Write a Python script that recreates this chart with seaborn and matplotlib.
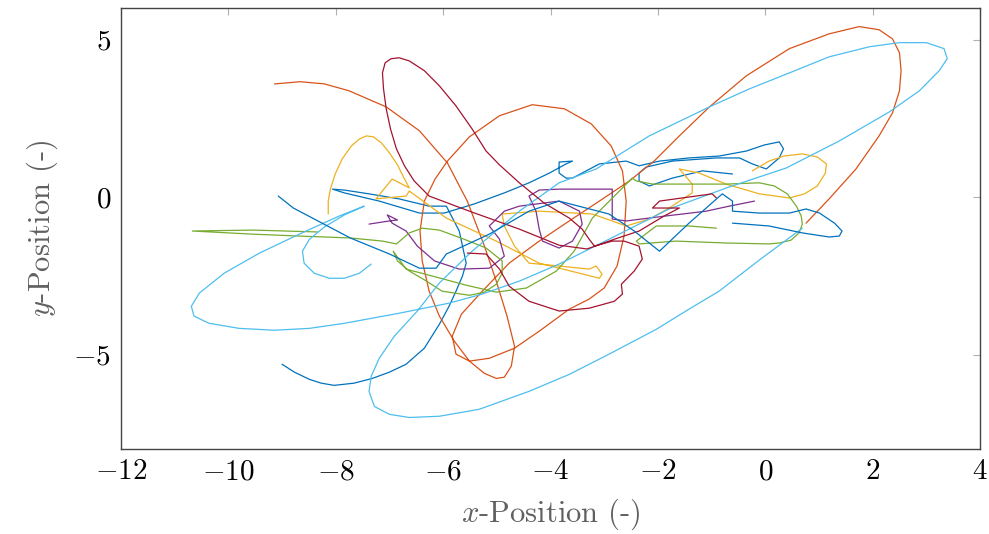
import matplotlib
matplotlib.use("Agg")
import matplotlib.pyplot as plt
import numpy as np
import pandas as pd
import seaborn as sns

# ---- trajectory data (x, y positions) ----
blue_x = [-9.00, -8.77, -8.49, -8.27, -8.03, -7.66, -7.32, -7.00, -6.69, -6.35, -6.07, -5.89, -5.76,
          -5.64, -5.57, -5.70, -5.94, -6.26, -6.82, -7.38,
          -7.84, -8.06, -7.84, -7.19, -6.44, -5.98, -5.42, -4.86, -4.40, -4.02, -3.71, -3.59, -3.84,
          -3.84, -3.71, -3.59, -3.09, -2.59, -2.35, -1.97, -1.42, -0.86, -0.35, -0.02, 0.26, 0.34,
          0.26, 0.02, -0.24, -0.48, -0.91, -1.73, -2.22, -2.35, -2.35, -2.16, -1.73, -1.17, -0.61]
blue_y = [-5.31, -5.56, -5.79, -5.91, -5.98, -5.91, -5.76, -5.56, -5.31, -4.80, -4.04, -3.47, -2.99,
          -2.51, -2.10, -1.08, -0.29, -0.29, -0.06, 0.10,
          0.22, 0.25, 0.13, -0.13, -0.51, -0.51, -0.22, 0.13, 0.45, 0.76, 1.05, 1.14, 1.11,
          0.76, 0.60, 0.60, 1.05, 1.14, 0.99, 1.14, 1.24, 1.30, 1.46, 1.65, 1.75, 1.53,
          1.24, 0.89, 1.05, 1.24, 1.24, 1.14, 0.95, 0.76, 0.51, 0.35, 0.60, 0.83, 0.73]

blue2_x = [-9.07, -8.79, -7.73, -7.00, -6.44, -6.13, -5.94, -5.14, -4.40, -3.84, -2.91, -2.44, -1.97,
           -1.42, -0.80, -0.61, -0.61, -0.11, 0.45, 0.76, 1.01, 1.29, 1.43, 1.38, 1.19, 0.69, 0.07,
           -0.61]
blue2_y = [0.03, -0.35, -1.30, -1.81, -2.26, -2.26, -1.81, -1.18, -0.45, -0.13, -0.54, -1.08, -1.72,
           -0.83, 0.10, -0.13, -0.45, -0.51, -0.51, -0.38, -0.51, -0.83, -1.08, -1.24, -1.27, -1.14,
           -0.92, -0.83]

orange_x = [-9.14, -8.66, -8.21, -7.75, -7.06, -6.44, -5.92, -5.55, -5.23, -5.01, -4.81, -4.67, -4.73,
            -4.86, -5.01, -5.23, -5.51, -5.79, -6.07, -6.26, -6.39, -6.43, -6.35, -6.15, -5.92, -5.51,
            -4.95, -4.34, -3.74, -3.24, -2.87, -2.66, -2.59, -2.63, -2.76, -3.00, -3.28, -3.65, -4.21,
            -4.67, -5.14, -5.51, -5.76, -5.83, -5.66, -5.27, -4.77, -4.21, -3.65, -3.09, -2.53, -2.07,
            -1.60, -1.04, -0.35, 0.45, 1.19, 1.75, 2.12, 2.37, 2.50, 2.53, 2.50, 2.37, 2.12, 1.69,
            1.19, 0.76]
orange_y = [3.59, 3.66, 3.59, 3.37, 2.86, 2.10, 1.08, -0.13, -1.56, -2.67, -3.78, -4.74, -5.37,
            -5.72, -5.76, -5.60, -5.21, -4.58, -3.78, -2.99, -2.03, -1.08, -0.13, 0.57, 1.14, 1.91,
            2.58, 2.93, 2.80, 2.32, 1.62, 0.83, -0.13, -1.24, -2.19, -2.89, -3.24, -3.56, -4.26,
            -4.80, -5.12, -5.21, -4.99, -4.42, -3.72, -2.99, -2.10, -1.40, -0.76, -0.13, 0.51, 1.14,
            1.94, 2.86, 3.85, 4.71, 5.18, 5.41, 5.31, 5.02, 4.58, 4.01, 3.37, 2.67, 1.94, 0.89,
            -0.06, -0.83]

yellow_x = [-8.14, -8.14, -8.10, -8.01, -7.88, -7.71, -7.56, -7.43, -7.30, -7.15, -7.00, -6.85, -6.74,
            -6.63, -6.95, -7.25, -6.69, -6.63,
            -5.94, -5.01, -4.21, -3.46, -3.09, -3.04, -3.15, -3.28, -3.84, -4.40, -4.67, -4.86, -4.90,
            -4.21, -3.22, -2.59, -2.16, -1.79, -1.36, -1.36, -1.60, -1.23, -0.73, -0.11, 0.45, 0.73,
            0.97, 1.12, 1.14, 0.97, 0.69, 0.35, 0.07, -0.24]
yellow_y = [-0.54, -0.13, 0.25, 0.73, 1.21, 1.62, 1.84, 1.94, 1.91, 1.72, 1.40, 1.02, 0.64,
            0.29, 0.57, -0.06, 0.03, 0.19,
            -0.67, -1.40, -2.10, -2.42, -2.58, -2.45, -2.19, -2.29, -2.19, -2.10, -1.56, -0.92, -0.54,
            -0.45, -0.54, -0.92, -0.70, -0.35, 0.13, 0.41, 0.89, 0.76, 0.41, 0.10, -0.03, 0.10,
            0.35, 0.76, 1.05, 1.27, 1.37, 1.30, 1.14, 0.83]

purple_x = [-7.38, -7.00, -6.85, -7.04, -6.95, -6.69, -6.48, -6.16, -5.70, -5.14, -4.86, -4.95, -5.14,
            -4.86, -4.58, -3.84, -3.46, -3.41, -3.59, -3.84, -4.15, -4.21, -4.27, -4.40, -4.21, -3.84,
            -3.22, -2.85, -2.85, -2.59, -1.84, -1.10, -0.67, -0.20]
purple_y = [-0.86, -0.76, -0.73, -0.57, -0.83, -1.08, -1.56, -2.03, -2.29, -2.26, -1.88, -1.34, -0.92,
            -0.45, -0.29, -0.13, -0.45, -0.86, -1.40, -1.62, -1.40, -1.02, -0.45, 0.03, 0.22, 0.25,
            0.25, 0.25, -0.70, -0.76, -0.60, -0.45, -0.29, -0.13]

green_x = [-8.34, -9.54, -10.67, -9.54, -8.68, -7.73, -7.13, -6.87, -6.63, -6.39, -6.07, -5.61, -5.20,
           -4.90, -4.90, -5.01, -5.23, -5.51, -6.02, -6.31, -6.63, -6.85, -6.93, -6.69, -6.20, -5.57,
           -5.01, -4.45, -3.89, -3.56, -3.22, -2.81, -2.48, -2.40, -2.10, -1.23, -0.73, -0.11, 0.17,
           0.41, 0.58, 0.67, 0.69, 0.63, 0.48, 0.26, 0.07, -0.73, -1.66, -2.35, -2.40, -2.03, -1.42,
           -0.91]
green_y = [-1.11, -1.05, -1.08, -1.18, -1.24, -1.30, -1.40, -1.49, -1.14, -0.99, -1.05, -1.34, -1.62,
           -2.03, -2.42, -2.77, -3.02, -3.12, -2.99, -2.67, -2.35, -2.03, -1.72, -2.29, -2.51, -2.80,
           -3.02, -2.89, -2.35, -1.72, -0.67, 0.03, 0.60, 0.51, 0.41, 0.41, 0.41, 0.45, 0.35,
           0.10, -0.29, -0.60, -0.86, -1.14, -1.37, -1.46, -1.49, -1.46, -1.40, -1.49, -1.40, -0.92, -0.92,
           -0.99]

cyan_x = [-7.34, -7.56, -7.84, -8.12, -8.40, -8.59, -8.62, -8.49, -8.21, -7.84, -7.47, -7.93, -8.68,
          -9.42, -10.08, -10.54, -10.69, -10.64, -10.36, -9.80, -9.14, -8.49, -7.84, -6.82, -5.89,
          -5.27, -4.58, -3.84, -2.91, -1.79, -0.67, 0.39, 1.38, 2.31, 2.87, 3.24, 3.39, 3.33, 3.00,
          2.50, 1.94, 1.19, 0.45, -0.30, -1.04, -2.16, -3.15, -3.84, -4.58, -5.46, -6.07, -6.48,
          -6.91, -7.19, -7.34, -7.38, -7.28, -7.00, -6.63, -6.07, -5.33, -4.40, -3.65, -2.91, -2.03,
          -1.42, -0.86, -0.11, 0.69]
cyan_y = [-2.13, -2.42, -2.58, -2.58, -2.42, -2.10, -1.72, -1.34, -0.95, -0.57, -0.29, -0.60, -1.18,
          -1.78, -2.42, -3.05, -3.47, -3.78, -4.01, -4.17, -4.23, -4.17, -4.01, -3.69, -3.37,
          -3.08, -2.67, -2.13, -1.34, -0.38, 0.32, 0.92, 1.78, 2.70, 3.37, 4.01, 4.39, 4.71, 4.90,
          4.90, 4.77, 4.45, 3.94, 3.43, 2.86, 1.94, 0.89, 0.45, -0.45, -1.72, -2.73, -3.62,
          -4.42, -5.12, -5.69, -6.17, -6.65, -6.90, -7.00, -6.96, -6.74, -6.17, -5.63, -4.99, -4.20,
          -3.56, -2.99, -2.00, -0.99]

red_x = [-5.55, -5.20, -4.95, -4.77, -4.40, -3.84, -3.28, -2.81, -2.66, -2.68, -2.44, -2.29, -2.35,
         -2.63, -2.85, -3.18, -3.28, -3.41, -3.65, -4.12, -4.58, -4.95, -5.20, -5.46, -5.76, -6.07,
         -6.35, -6.63, -6.82, -6.97, -7.08, -7.13, -7.11, -7.06, -6.98, -6.87, -6.72, -6.54, -6.26,
         -5.51, -4.58, -3.84, -3.32, -2.81, -2.35, -1.88, -1.60, -2.10, -1.97, -1.42, -0.99, -0.91]
red_y = [-1.78, -1.81, -2.29, -2.83, -3.31, -3.62, -3.53, -3.31, -3.08, -2.77, -2.35, -1.97, -1.56,
         -1.40, -1.40, -1.56, -1.34, -1.02, -0.67, -0.19, 0.45, 1.02, 1.46, 2.16, 2.89, 3.53,
         4.01, 4.32, 4.42, 4.39, 4.26, 3.94, 3.43, 2.80, 2.16, 1.53, 0.99, 0.51, 0.03,
         -0.45, -1.02, -1.53, -1.65, -1.34, -1.08, -0.60, -0.35, -0.35, -0.13, 0.00, 0.10, -0.03]

names = ["1", "2", "3", "4", "5", "6", "7", "8"]
colors = ["#0072BD", "#D95319", "#EDB120", "#7E2F8E", "#77AC30", "#4DBEEE", "#A2142F", "#0072BD"]
series = [(blue_x, blue_y), (orange_x, orange_y), (yellow_x, yellow_y), (purple_x, purple_y),
          (green_x, green_y), (cyan_x, cyan_y), (red_x, red_y), (blue2_x, blue2_y)]

frames = []
for name, (xs, ys) in zip(names, series):
    frames.append(pd.DataFrame({"x": xs, "y": ys, "run": name, "step": range(len(xs))}))
df = pd.concat(frames, ignore_index=True)

sns.set_theme(style="white")
plt.rcParams.update({
    "font.family": ["cmr10", "DejaVu Serif"],
    "mathtext.fontset": "cm",
    "axes.formatter.use_mathtext": True,
    "axes.unicode_minus": True,
})

fig = plt.figure(figsize=(9.89, 5.34), dpi=100)
ax = fig.add_axes([121 / 989, 1 - 449 / 534, (980 - 121) / 989, (449 - 8) / 534])

sns.lineplot(data=df, x="x", y="y", hue="run", units="run", estimator=None, sort=False,
             palette=dict(zip(names, colors)), legend=False, linewidth=0.9, ax=ax)

ax.set_xlim(-12, 4)
ax.set_ylim(-8, 6)
ax.set_xticks([-12, -10, -8, -6, -4, -2, 0, 2, 4])
ax.set_yticks([-5, 0, 5])
ax.tick_params(direction="in", length=5, width=0.8, color="#b0b0b0", labelsize=21,
               top=True, right=True, labelcolor="black", pad=7)
for s in ax.spines.values():
    s.set_color("#444444")
    s.set_linewidth(1.0)

ax.set_xlabel("$x$-Position (-)", fontsize=22, color="#606060", labelpad=8)
ax.set_ylabel("$y$-Position (-)", fontsize=22, color="#606060", labelpad=10)

fig.savefig("out.png", dpi=100)
